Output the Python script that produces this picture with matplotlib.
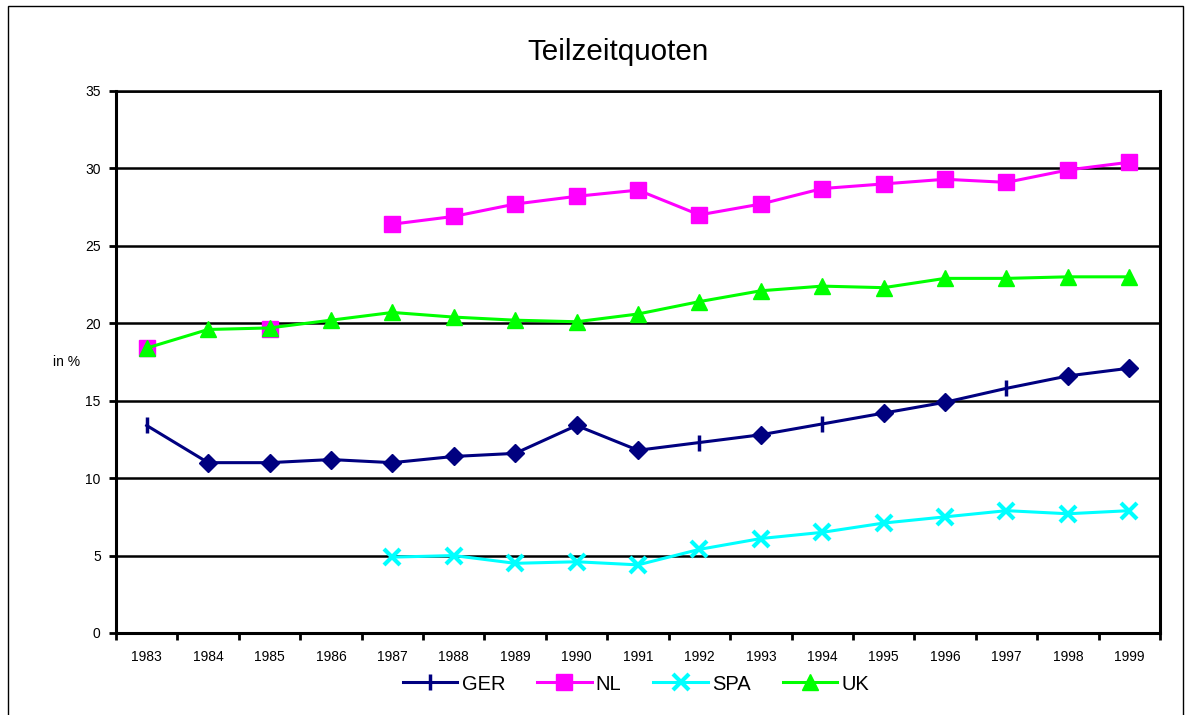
import numpy as np
import matplotlib
matplotlib.use("Agg")
import matplotlib.pyplot as plt
from matplotlib.patches import Rectangle

plt.rcParams['font.family'] = ['Liberation Sans', 'DejaVu Sans']

years = [1983, 1984, 1985, 1986, 1987, 1988, 1989, 1990, 1991,
         1992, 1993, 1994, 1995, 1996, 1997, 1998, 1999]

ger = [13.4, 11.0, 11.0, 11.2, 11.0, 11.4, 11.6, 13.4, 11.8,
       12.3, 12.8, 13.5, 14.2, 14.9, 15.8, 16.6, 17.1]
nl = [18.4, None, 19.6, None, 26.4, 26.9, 27.7, 28.2, 28.6,
      27.0, 27.7, 28.7, 29.0, 29.3, 29.1, 29.9, 30.4]
spa = [None, None, None, None, 4.9, 5.0, 4.5, 4.6, 4.4,
       5.4, 6.1, 6.5, 7.1, 7.5, 7.9, 7.7, 7.9]
uk = [18.4, 19.6, 19.7, 20.2, 20.7, 20.4, 20.2, 20.1, 20.6,
      21.4, 22.1, 22.4, 22.3, 22.9, 22.9, 23.0, 23.0]

# years where the GER marker is drawn as a plain tick (as in the original)
ger_tick_years = [1983, 1992, 1994, 1997]


def arr(v):
    return np.array([np.nan if x is None else x for x in v], dtype=float)


fig = plt.figure(figsize=(11.86, 7.15), dpi=100)
ax = fig.add_axes([116 / 1186, 1 - 633 / 715, (1160 - 116) / 1186, (633 - 91) / 715])

x = np.arange(len(years))
g = arr(ger)
tick_mask = np.isin(years, ger_tick_years)

# GER: line, diamonds and tick marks
ax.plot(x, g, color='#000080', lw=2.2, zorder=3)
ax.plot(x[~tick_mask], g[~tick_mask], ls='none', marker='D', ms=9,
        color='#000080', zorder=4)
ax.plot(x[tick_mask], g[tick_mask], ls='none', marker='|', ms=12, mew=2.5,
        color='#000080', zorder=4)
ax.plot(x, arr(nl), color='#FF00FF', lw=2.2, marker='s', ms=11, zorder=3)
ax.plot(x, arr(spa), color='#00FFFF', lw=2.2, marker='x', ms=11, mew=3, zorder=3)
ax.plot(x, arr(uk), color='#00FF00', lw=2.2, marker='^', ms=12, zorder=3)

# legend proxies
h_ger, = ax.plot([], [], color='#000080', lw=2.2, marker='|', ms=12, mew=2.5)
h_nl, = ax.plot([], [], color='#FF00FF', lw=2.2, marker='s', ms=11)
h_spa, = ax.plot([], [], color='#00FFFF', lw=2.2, marker='x', ms=11, mew=3)
h_uk, = ax.plot([], [], color='#00FF00', lw=2.2, marker='^', ms=12)

ax.set_xlim(-0.5, len(years) - 0.5)
ax.set_ylim(0, 35)
ax.set_yticks(np.arange(0, 36, 5))
ax.yaxis.grid(True, color='black', lw=1.8)
ax.set_axisbelow(True)

ax.set_xticks(np.arange(-0.5, len(years), 1))
ax.set_xticklabels([])
ax.set_xticks(x, minor=True)
ax.set_xticklabels([str(y) for y in years], minor=True, fontsize=10)
ax.tick_params(axis='x', which='major', direction='out', length=5, width=2)
ax.tick_params(axis='x', which='minor', length=0, pad=12)
ax.tick_params(axis='y', direction='out', length=5, width=2, labelsize=10, pad=6)

for side in ['left', 'bottom', 'right']:
    ax.spines[side].set_linewidth(2.2)
ax.spines['top'].set_linewidth(1.8)

fig.text(617.5 / 1186, 1 - 60 / 715, 'Teilzeitquoten', ha='center', va='baseline', fontsize=21.3)
fig.text(67 / 1186, 1 - 362 / 715, 'in %', ha='center', va='center', fontsize=10)

fig.legend([h_ger, h_nl, h_spa, h_uk], ['GER', 'NL', 'SPA', 'UK'],
           loc='center', bbox_to_anchor=(636 / 1186, 1 - 684 / 715), ncol=4,
           frameon=False, fontsize=14.5, handlelength=2.7, handletextpad=0.2,
           columnspacing=1.6, borderpad=0)

fig.patches.append(Rectangle((8 / 1186, -0.2), (1183 - 8) / 1186, 1.2 - 6 / 715,
                             transform=fig.transFigure, fill=False,
                             edgecolor='black', lw=1))

fig.savefig('out.png', dpi=100)
